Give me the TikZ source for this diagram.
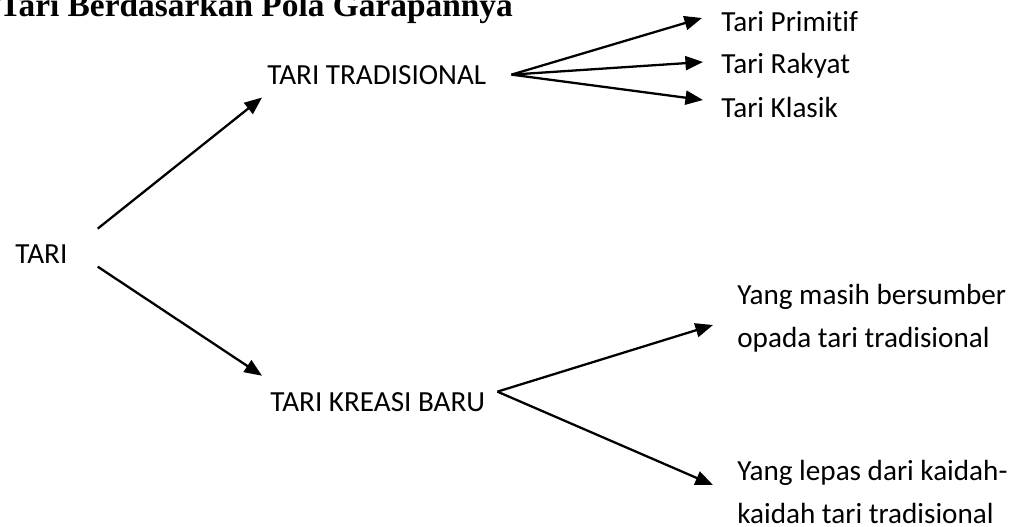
\documentclass[tikz,border=0pt]{standalone}
\usepackage{fontspec}
\setmainfont{Carlito}[Ligatures=NoCommon]
\newfontfamily\titlefont{Liberation Serif}
\usetikzlibrary{arrows.meta, calc}

\begin{document}
\begin{tikzpicture}[x=0.02cm, y=-0.02cm, every node/.style={inner sep=0pt, anchor=base west, align=left, font=\fontsize{16.6}{24.1}\selectfont}, arr/.style={line width=1.3pt, -{Triangle[length=10pt, width=8pt]}} ]
        \useasboundingbox (0,0) rectangle (1021,527);
        \node (title) at (-1,17) {\titlefont\bfseries\fontsize{19}{22}\selectfont Tari Berdasarkan Pola Garapannya};
        \node (tari) at (15,263) {TARI};
        \node (trad) at (267,85) {TARI TRADISIONAL};
        \node (kreasi) at (270,411) {TARI KREASI BARU};
        \node (primitif) at (721,32) {Tari Primitif};
        \node (rakyat) at (721,74) {Tari Rakyat};
        \node (klasik) at (721,117) {Tari Klasik};
        \node (masih) at (737,347) {Yang masih bersumber\\opada tari tradisional};
        \node (lepas) at (737,523) {Yang lepas dari kaidah-\\kaidah tari tradisional};
        \coordinate (hub1) at ($(trad.east)+(25,-1)$);
        \coordinate (hub2) at ($(kreasi.east)+(12,-10)$);
        \draw[arr] ($(tari.east)+(30,-25)$)--($(trad.south west)+(-5,12)$);
        \draw[arr] ($(tari.east)+(30,13)$)--($(kreasi.north west)+(-8,-16)$);
        \draw[arr] (hub1)--($(primitif.base west)+(-19,-14)$);
        \draw[arr] (hub1)--($(rakyat.base west)+(-18,-12)$);
        \draw[arr] (hub1)--($(klasik.base west)+(-18,-17)$);
        \draw[arr] (hub2)--($(masih.base west)+(-24,-22)$);
        \draw[arr] (hub2)--($(lepas.base west)+(-24,-38)$);
    \end{tikzpicture}
\end{document}
